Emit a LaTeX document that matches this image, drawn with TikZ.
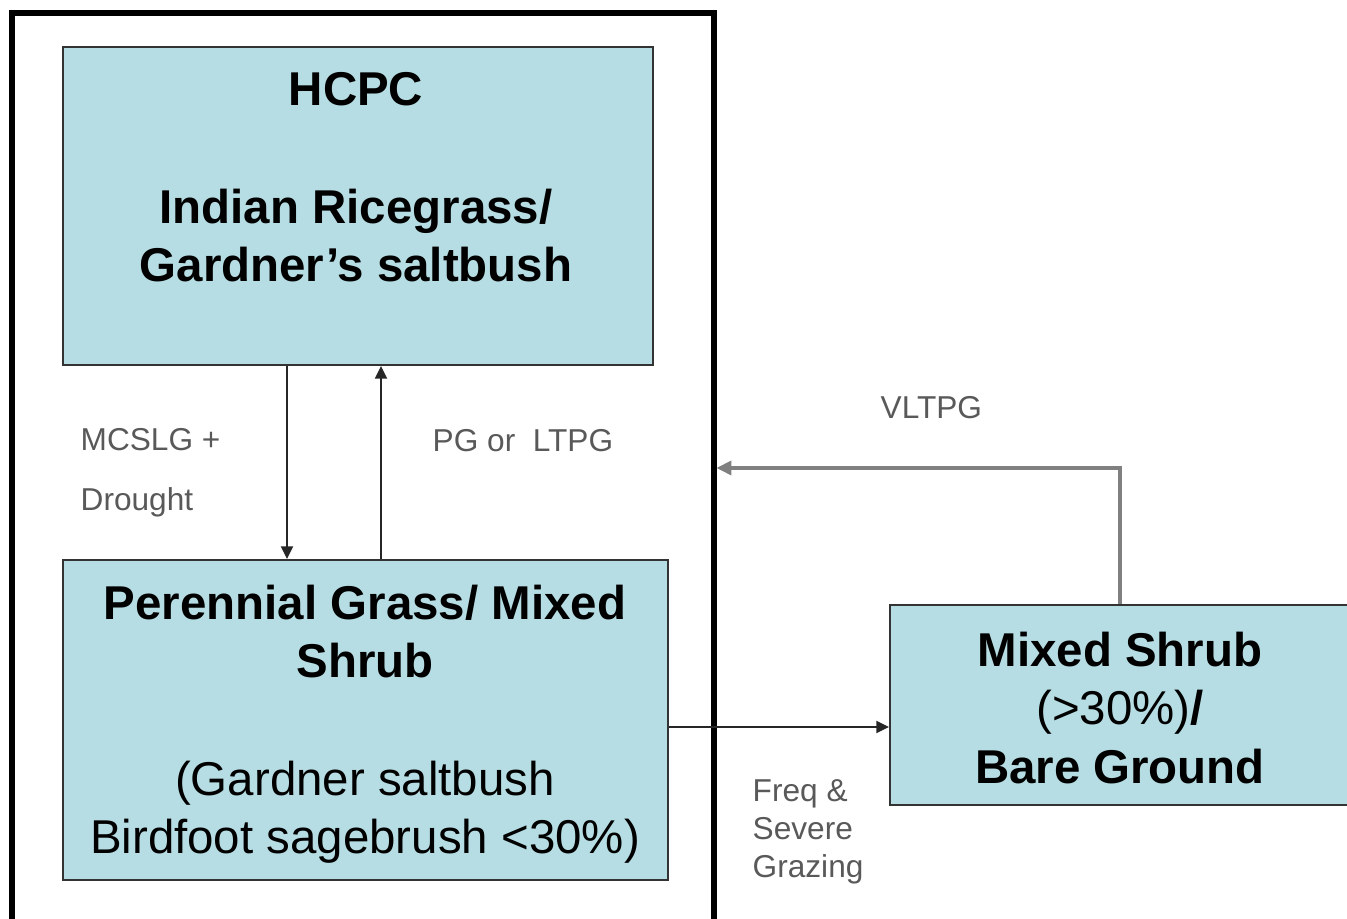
\documentclass[tikz,border=0pt]{standalone}
\usepackage{fontspec}
\setmainfont{Liberation Sans}
\usetikzlibrary{arrows.meta}
\definecolor{statefill}{RGB}{182,221,227}
\begin{document}
\begin{tikzpicture}[>={Triangle[length=3.6pt,width=3.4pt]},
  state/.style={draw=black!80, fill=statefill, line width=0.6pt, inner sep=0pt},
  stxt/.style={font=\fontsize{13.5}{16.7}\selectfont, align=center, inner sep=0pt, anchor=north},
  lbl/.style={font=\fontsize{9}{17}\selectfont, text=black!65, align=left, inner sep=0pt, anchor=north west},
  arr/.style={->, draw=black!85, line width=0.6pt},
  back/.style={->, draw=black!50, line width=0.9pt}]
\useasboundingbox (0,0) rectangle (13.47,-9.19);

% ---------- the reference state (heavy frame) ----------
\node[draw, line width=1.6pt, minimum width=7.015cm, minimum height=9.32cm, inner sep=0pt] (frame) at (3.63,-4.79) {};

% ---------- states ----------
\node[state, minimum width=5.90cm, minimum height=3.18cm] (hcpc) at (3.58,-2.06) {};
\node[stxt] (hcpct) at (3.56,-0.72) {\textbf{HCPC}\\[16.7pt]\textbf{Indian Ricegrass/}\\\textbf{Gardner’s saltbush}};

\node[state, minimum width=6.05cm, minimum height=3.20cm] (pgms) at (3.655,-7.20) {};
\node[stxt] (pgmst) at (3.65,-5.84) {\textbf{Perennial Grass/ Mixed}\\\textbf{Shrub}\\[16.7pt](Gardner saltbush\\Birdfoot sagebrush <30\%)};

\node[state, minimum width=4.60cm, minimum height=2.00cm] (msbg) at (11.20,-7.05) {};
\node[stxt] (msbgt) at (11.20,-6.31) {\textbf{Mixed Shrub}\\(>30\%)\textbf{/}\\\textbf{Bare Ground}};

% ---------- transitions ----------
\coordinate (dn) at (2.87,0);
\coordinate (up) at (3.81,0);
\coordinate (hz) at (0,-7.27);
\coordinate (vl) at (0,-4.68);
\draw[arr] (hcpc.south -| dn) -- (pgms.north -| dn);
\draw[arr] (pgms.north -| up) -- (hcpc.south -| up);
\draw[arr] (pgms.east |- hz) -- (msbg.west |- hz);
\draw[back, >={Triangle[length=4.2pt,width=4pt]}] (msbg.north) |- (frame.east |- vl);

% ---------- transition labels ----------
\node[lbl] (l1) at (0.80,-4.28) {MCSLG +\\Drought};
\node[lbl] (l2) at (4.32,-4.29) {PG or\ \ LTPG};
\node[lbl] (l3) at (8.80,-3.96) {VLTPG};
\node[lbl, font=\fontsize{9}{10.8}\selectfont] (l4) at (7.52,-7.79) {Freq \&\\Severe\\Grazing};

\end{tikzpicture}
\end{document}
